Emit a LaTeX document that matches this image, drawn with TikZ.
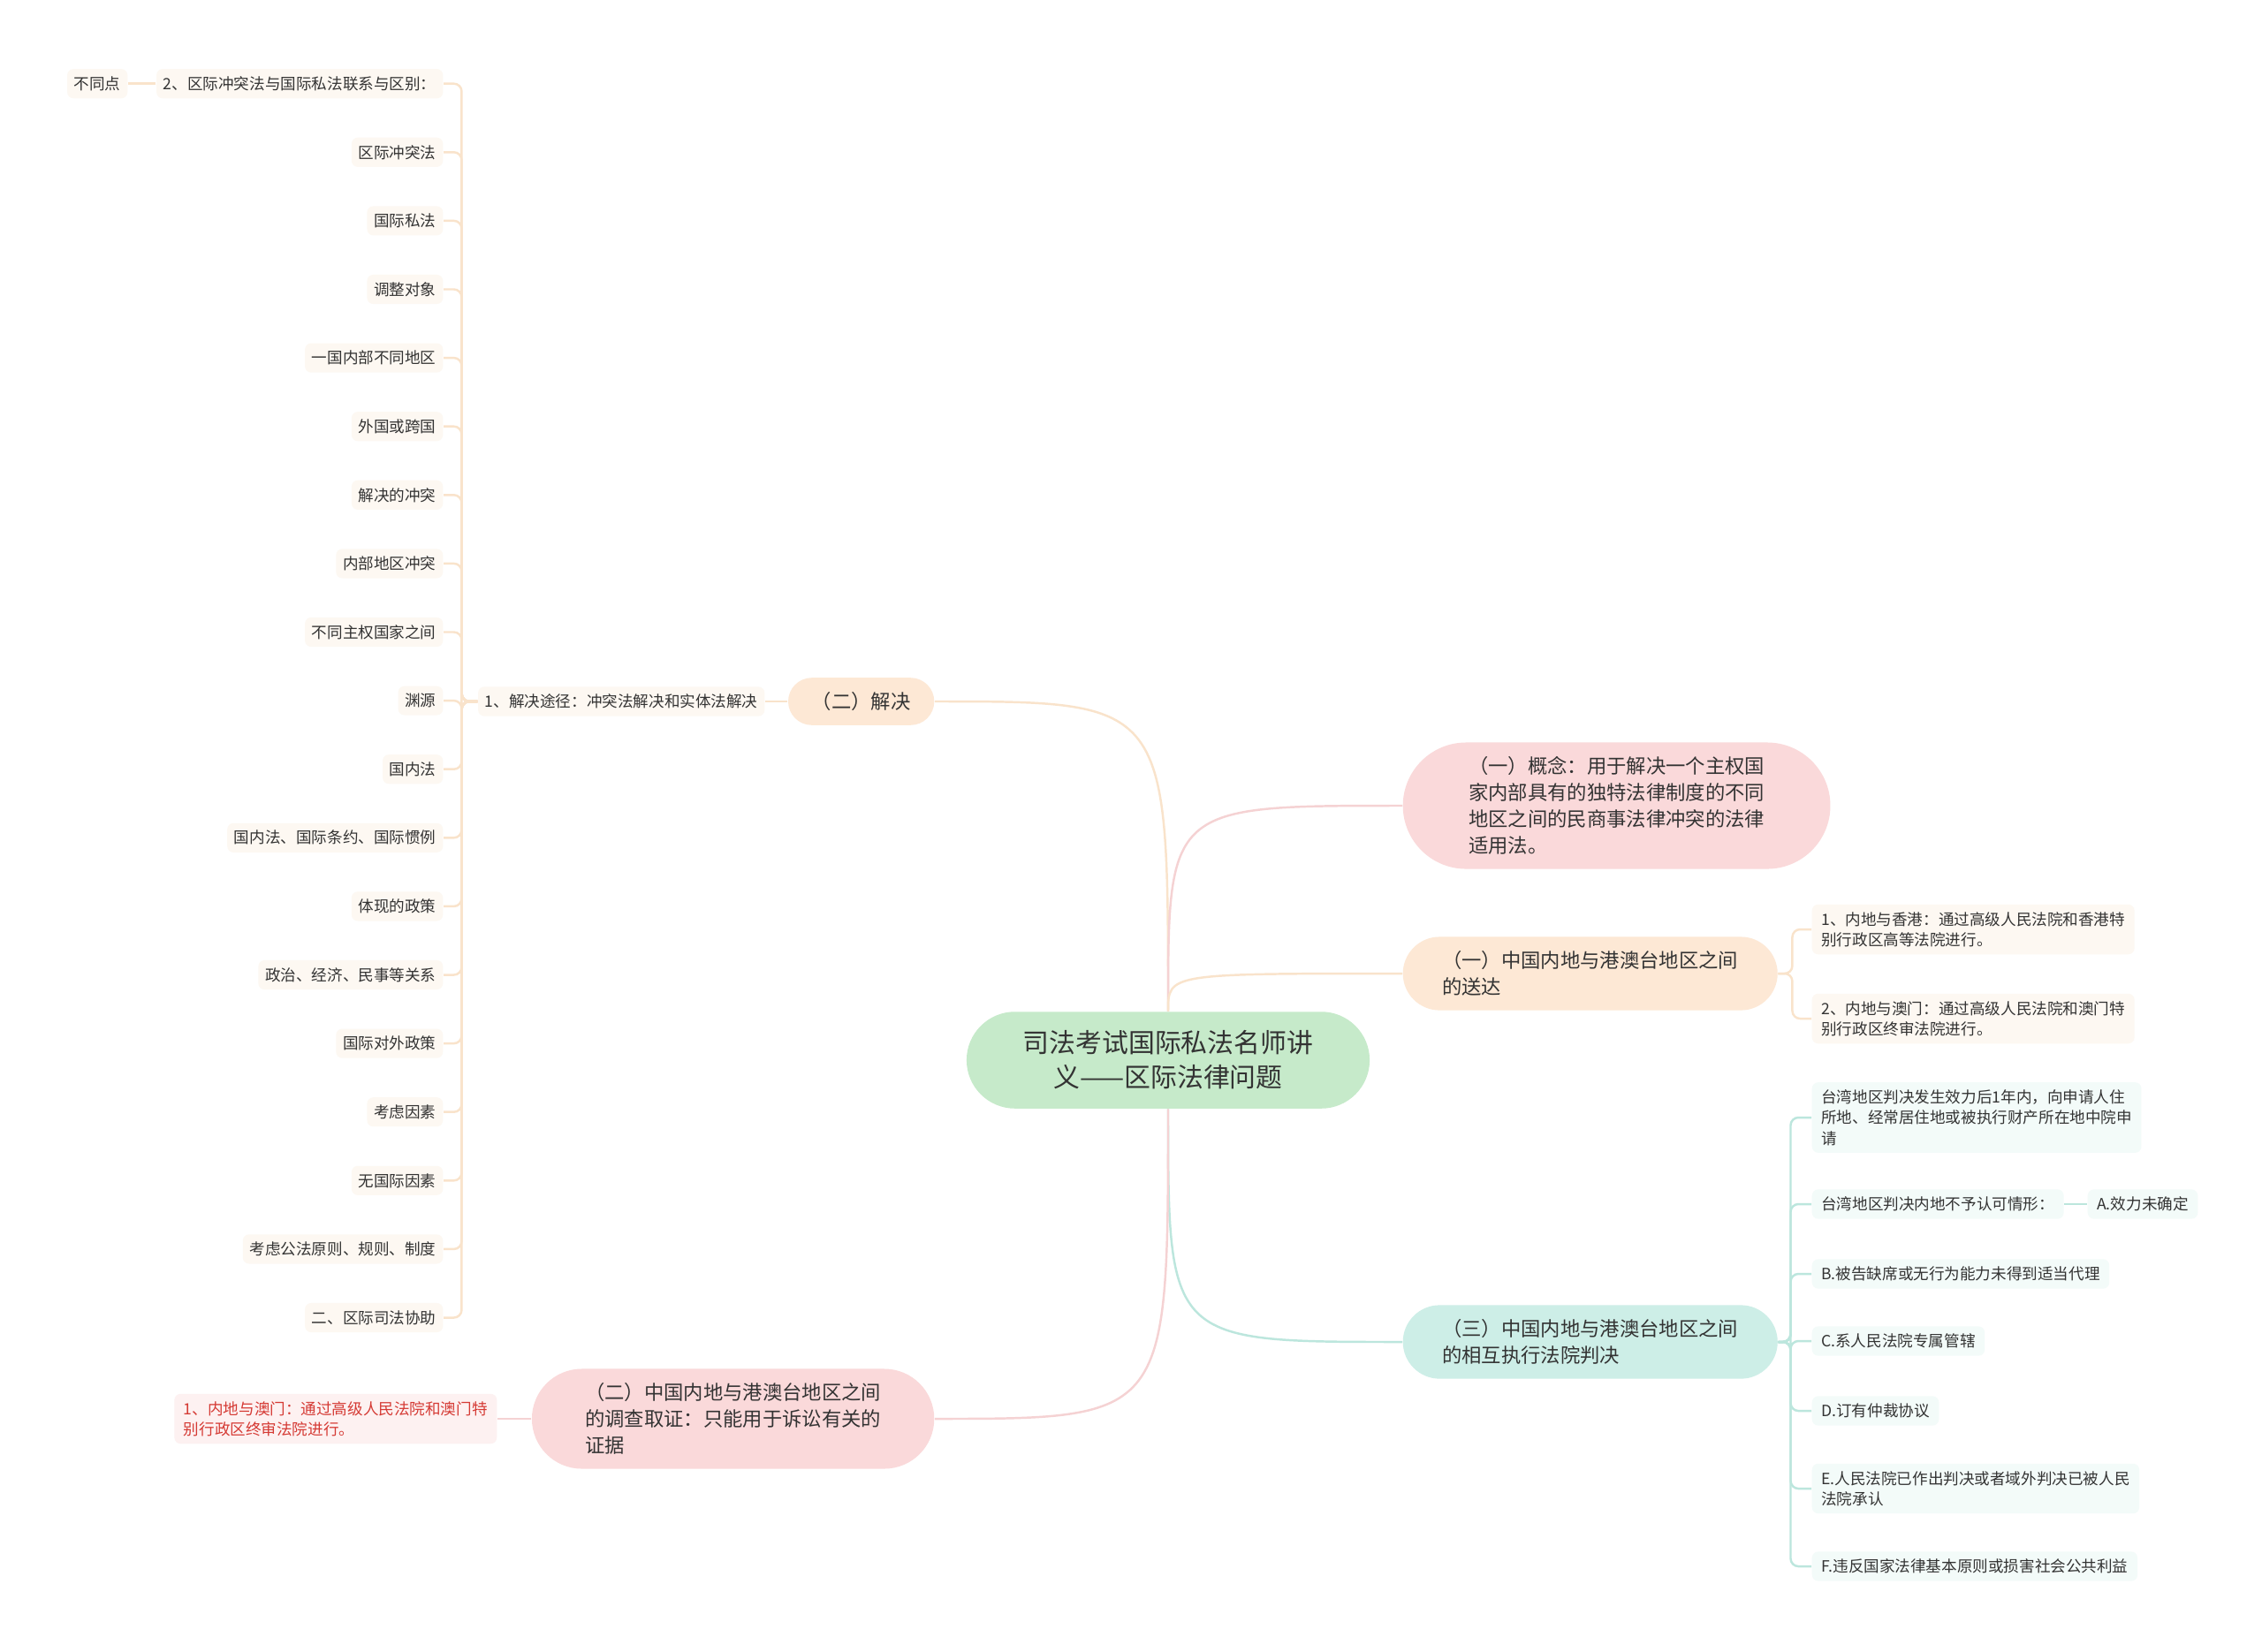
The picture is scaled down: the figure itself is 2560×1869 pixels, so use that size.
\documentclass[tikz,border=0pt]{standalone}
\usepackage{fontspec}
\usepackage{xcolor}
\usetikzlibrary{shapes.misc}

\newfontfamily\cjk{Noto Sans CJK SC}
\newcommand\leaffont{\cjk\fontsize{5pt}{6.6pt}\selectfont}
\newcommand\midfont{\cjk\fontsize{6.35pt}{8.5pt}\selectfont}
\newcommand\rootfont{\cjk\fontsize{8.5pt}{11.1pt}\selectfont}

\definecolor{txt}{HTML}{333333}
\definecolor{rootfill}{HTML}{C6EACA}
\definecolor{pinkfill}{HTML}{FAD9DA}
\definecolor{peachfill}{HTML}{FDE8D5}
\definecolor{mintfill}{HTML}{CDEEE7}
\definecolor{peachleaf}{HTML}{FDF8F2}
\definecolor{mintleaf}{HTML}{F3FBF9}
\definecolor{redleaf}{HTML}{FDF1F1}
\definecolor{redtxt}{HTML}{D53A34}
\definecolor{peachline}{HTML}{F9E3CB}
\definecolor{pinkline}{HTML}{F5D2D3}
\definecolor{mintline}{HTML}{BCE6DD}

\tikzset{
  pill/.style={rounded rectangle, inner xsep=10.2pt, inner ysep=4.6pt, align=left, font=\midfont, text=txt},
  leaf/.style={rectangle, rounded corners=2pt, inner xsep=2.2pt, inner ysep=2.4pt, align=left, font=\leaffont, text=txt},
  conn/.style={line width=0.7pt, rounded corners=2.5pt}
}

\begin{document}
\begin{tikzpicture}[x=0.01cm, y=-0.01cm]
    \fill[white] (0,0) rectangle (2560,1869);
    \useasboundingbox (0,0) rectangle (2560,1869);

    % centre
    \node[pill, fill=rootfill, align=center, font=\rootfont, inner xsep=14.9pt, inner ysep=6.1pt] (root) at (1322,1200)
        {司法考试国际私法名师讲\\义——区际法律问题};

    % first level
    \node[pill, fill=pinkfill, anchor=west, inner xsep=13.7pt] (gn) at (1587,912)
        {（一）概念：用于解决一个主权国\\家内部具有的独特法律制度的不同\\地区之间的民商事法律冲突的法律\\适用法。};
    \node[pill, fill=peachfill, anchor=west] (sd) at (1587,1102)
        {（一）中国内地与港澳台地区之间\\的送达};
    \node[pill, fill=mintfill, anchor=west] (xh) at (1587,1519)
        {（三）中国内地与港澳台地区之间\\的相互执行法院判决};
    \node[pill, fill=peachfill, anchor=east, inner xsep=7pt] (jj) at (1058,794) {（二）解决};
    \node[pill, fill=pinkfill, anchor=east, inner xsep=12.3pt] (dc) at (1058,1606)
        {（二）中国内地与港澳台地区之间\\的调查取证：只能用于诉讼有关的\\证据};

    \draw[conn, draw=peachline] (root.north) .. controls (root.north |- jj.east) .. (jj.east);
    \draw[conn, draw=pinkline] (root.north) .. controls (root.north |- gn.west) .. (gn.west);
    \draw[conn, draw=peachline] (root.north) .. controls (root.north |- sd.west) .. (sd.west);
    \draw[conn, draw=mintline] (root.south) .. controls (root.south |- xh.west) .. (xh.west);
    \draw[conn, draw=pinkline] (root.south) .. controls (root.south |- dc.east) .. (dc.east);

    % left branch
    \node[leaf, fill=peachleaf, anchor=east] (tj) at (866,794) {1、解决途径：冲突法解决和实体法解决};
    \draw[conn, draw=peachline] (jj.west) -- (tj.east);

    \foreach \t [count=\k from 0] in {2、区际冲突法与国际私法联系与区别：,区际冲突法,国际私法,调整对象,
        一国内部不同地区,外国或跨国,解决的冲突,内部地区冲突,不同主权国家之间,渊源,国内法,
        国内法、国际条约、国际惯例,体现的政策,政治、经济、民事等关系,国际对外政策,考虑因素,
        无国际因素,考虑公法原则、规则、制度,二、区际司法协助}{
        \node[leaf, fill=peachleaf, anchor=east] (l\k) at (502,94.7+77.6*\k) {\t};
        \draw[conn, draw=peachline] (tj.west) -- ++(-18,0) |- (l\k.east);
    }
    \node[leaf, fill=peachleaf, anchor=east] (btd) at (145,94.7) {不同点};
    \draw[conn, draw=peachline] (l0.west) -- (btd.east);

    \node[leaf, fill=redleaf, text=redtxt, anchor=east, inner xsep=3pt] (am) at (563,1606)
        {1、内地与澳门：通过高级人民法院和澳门特\\别行政区终审法院进行。};
    \draw[conn, draw=pinkline] (dc.west) -- (am.east);

    % right branches
    \foreach \y/\t [count=\k] in {1052/{1、内地与香港：通过高级人民法院和香港特\\别行政区高等法院进行。},
        1153/{2、内地与澳门：通过高级人民法院和澳门特\\别行政区终审法院进行。}}{
        \node[leaf, fill=peachleaf, anchor=west, inner xsep=3pt] (s\k) at (2050,\y) {\t};
        \draw[conn, draw=peachline] (sd.east) -- ++(16,0) |- (s\k.west);
    }

    \foreach \y/\t [count=\k] in {1265/{台湾地区判决发生效力后1年内，向申请人住\\所地、经常居住地或被执行财产所在地中院申\\请},
        1363/{台湾地区判决内地不予认可情形：},
        1442/{B.被告缺席或无行为能力未得到适当代理},
        1518/{C.系人民法院专属管辖},
        1597/{D.订有仲裁协议},
        1685/{E.人民法院已作出判决或者域外判决已被人民\\法院承认},
        1773/{F.违反国家法律基本原则或损害社会公共利益}}{
        \node[leaf, fill=mintleaf, anchor=west, inner xsep=3pt] (r\k) at (2050,\y) {\t};
        \draw[conn, draw=mintline] (xh.east) -- ++(14,0) |- (r\k.west);
    }
    \node[leaf, fill=mintleaf, anchor=west, inner xsep=3pt] (ra) at (2362,1363) {A.效力未确定};
    \draw[conn, draw=mintline] (r2.east) -- (ra.west);

\end{tikzpicture}
\end{document}
